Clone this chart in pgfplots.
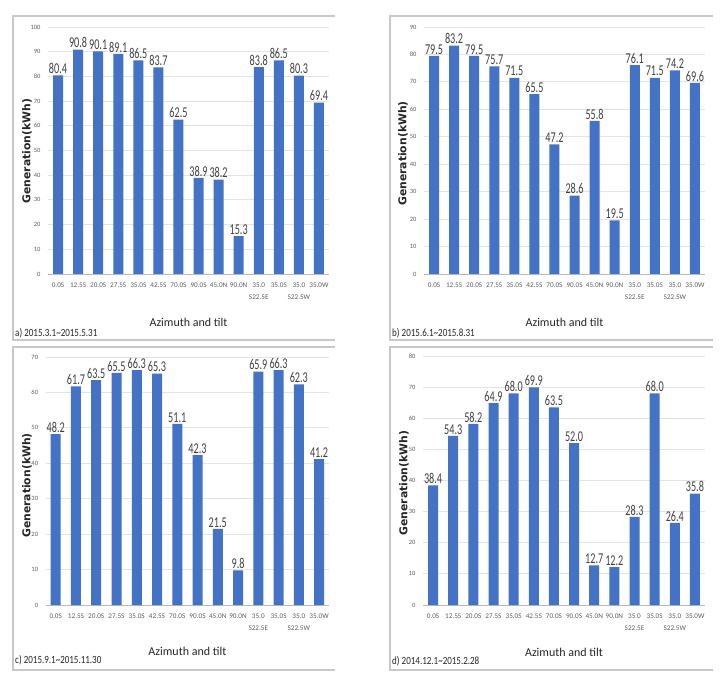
\documentclass[border=0pt]{standalone}
\usepackage{pgfplots}
\pgfplotsset{compat=1.18}
\usepackage{graphicx}
\usepackage{fontspec}
\setmainfont{Carlito}
\newfontfamily\vfont{DejaVu Sans}
\definecolor{barblue}{HTML}{4472C4}
\definecolor{framegray}{HTML}{C8C8C8}
\definecolor{txt}{HTML}{404040}
\pgfplotsset{
  /pgf/number format/assume math mode=true,
  panel/.style={
    ybar, bar width=10pt, scale only axis, anchor=south west,
    enlargelimits=false, clip=false,
    xmin=-0.5, xmax=13.5, ymin=0,
    xtick={0,...,13},
    xticklabels={0.0S,12.5S,20.0S,27.5S,35.0S,42.5S,70.0S,90.0S,45.0N,90.0N,{35.0\\S22.5E},35.0S,{35.0\\S22.5W},35.0W},
    axis lines*=left, axis line style={-},
    x axis line style={draw=gray!55, line width=0.9pt},
    y axis line style={draw=none},
    major tick length=0pt,
    ymajorgrids, grid style={gray!22, line width=0.8pt},
    xticklabel style={align=center, font=\fontsize{7.2}{12}\selectfont, text=txt!85, yshift=-5.5pt},
    yticklabel style={font=\fontsize{6.5}{6.5}\selectfont, text=txt!85, xshift=-4pt},
    nodes near coords={\scalebox{0.68}[1]{\pgfmathprintnumber[fixed,fixed zerofill,precision=1]{\pgfplotspointmeta}}},
    every node near coord/.append style={font=\fontsize{15}{15}\selectfont, text=txt, inner sep=1.5pt},
    xlabel={Azimuth and tilt},
    xlabel style={font=\fontsize{12}{12}\selectfont, text=black!85},
  },
}
\tikzset{
  genylab/.style={rotate=90, anchor=center, inner sep=0pt, font=\vfont\bfseries\fontsize{10.8}{10.8}\selectfont, text=black!85},
  panelcap/.style={anchor=west, inner sep=0pt, font=\fontsize{11}{11}\selectfont, text=black!85},
}
\begin{document}
\begin{tikzpicture}
\useasboundingbox (0pt,0pt) rectangle (722pt,678pt);
% frames
\draw[framegray, line width=1.3pt] (335pt,662pt) -- (13pt,662pt) -- (13pt,338pt) -- (335pt,338pt);
\draw[framegray, line width=1.3pt] (713pt,662pt) -- (390pt,662pt) -- (390pt,338pt) -- (713pt,338pt);
\draw[framegray, line width=1.3pt] (335pt,331pt) -- (13pt,331pt) -- (13pt,8pt) -- (335pt,8pt);
\draw[framegray, line width=1.3pt] (713pt,331pt) -- (390pt,331pt) -- (390pt,8pt) -- (713pt,8pt);

% a
\begin{axis}[panel, at={(48pt,404pt)}, width=281pt, height=247pt, ymax=100, ytick={0,10,...,100},
  xlabel style={at={(axis description cs:0.5,0)}, anchor=center, yshift=-48pt}]
\addplot[fill=barblue, draw=none] coordinates {(0,80.4) (1,90.8) (2,90.1) (3,89.1) (4,86.5) (5,83.7) (6,62.5) (7,38.9) (8,38.2) (9,15.3) (10,83.8) (11,86.5) (12,80.3) (13,69.4)};
\end{axis}
% b
\begin{axis}[panel, at={(424pt,404pt)}, width=281pt, height=247pt, ymax=90, ytick={0,10,...,90},
  xlabel style={at={(axis description cs:0.5,0)}, anchor=center, yshift=-48pt}]
\addplot[fill=barblue, draw=none] coordinates {(0,79.5) (1,83.2) (2,79.5) (3,75.7) (4,71.5) (5,65.5) (6,47.2) (7,28.6) (8,55.8) (9,19.5) (10,76.1) (11,71.5) (12,74.2) (13,69.6)};
\end{axis}
% c
\begin{axis}[panel, at={(45.6pt,73pt)}, width=283.6pt, height=248pt, ymax=70, ytick={0,10,...,70},
  xlabel style={at={(axis description cs:0.5,0)}, anchor=center, yshift=-46pt}]
\addplot[fill=barblue, draw=none] coordinates {(0,48.2) (1,61.7) (2,63.5) (3,65.5) (4,66.3) (5,65.3) (6,51.1) (7,42.3) (8,21.5) (9,9.8) (10,65.9) (11,66.3) (12,62.3) (13,41.2)};
\end{axis}
% d
\begin{axis}[panel, at={(423pt,73pt)}, width=282pt, height=249pt, ymax=80, ytick={0,10,...,80},
  xlabel style={at={(axis description cs:0.5,0)}, anchor=center, yshift=-47pt}]
\addplot[fill=barblue, draw=none] coordinates {(0,38.4) (1,54.3) (2,58.2) (3,64.9) (4,68.0) (5,69.9) (6,63.5) (7,52.0) (8,12.7) (9,12.2) (10,28.3) (11,68.0) (12,26.4) (13,35.8)};
\end{axis}

% y labels
\node[genylab] at (27pt,527pt) {Generation(kWh)};
\node[genylab] at (403pt,524.5pt) {Generation(kWh)};
\node[genylab] at (27pt,192.5pt) {Generation(kWh)};
\node[genylab] at (404pt,195pt) {Generation(kWh)};

% captions
\node[panelcap] at (15pt,345pt) {\scalebox{0.82}[1]{a) 2015.3.1\textasciitilde 2015.5.31}};
\node[panelcap] at (392pt,345pt) {\scalebox{0.82}[1]{b) 2015.6.1\textasciitilde 2015.8.31}};
\node[panelcap] at (15pt,18pt) {\scalebox{0.82}[1]{c) 2015.9.1\textasciitilde 2015.11.30}};
\node[panelcap] at (392pt,17pt) {\scalebox{0.82}[1]{d) 2014.12.1\textasciitilde 2015.2.28}};
\end{tikzpicture}
\end{document}
